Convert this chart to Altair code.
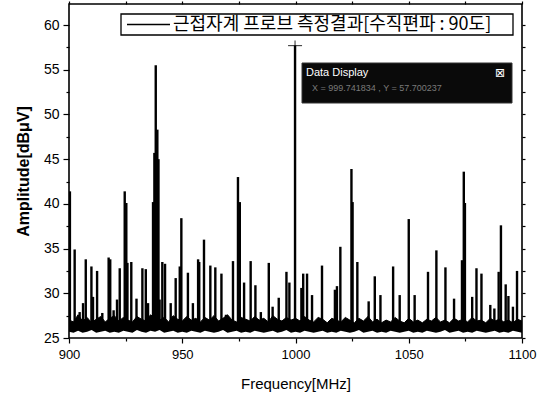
import altair as alt
import pandas as pd

# ---------------- data ----------------
freq_grid = list(range(900, 1101, 2))
floor_top = [
    27.0, 26.8, 27.6, 26.9, 27.3, 26.7, 27.1, 27.4, 26.8, 27.2,
    27.5, 26.9, 27.3, 27.0, 26.8, 27.4, 27.1, 26.9, 27.6, 27.2,
    27.0, 27.3, 26.8, 27.5, 27.1, 26.9, 27.4, 27.0, 27.2, 26.8,
    27.3, 27.0, 27.5, 26.9, 27.2, 27.6, 27.0, 26.8, 27.3, 27.1,
    26.9, 27.4, 27.0, 27.2, 26.8, 27.5, 27.1, 26.9, 27.3, 27.0,
    27.2, 26.9, 27.4, 27.0, 26.8, 27.3, 27.1, 26.7, 27.2, 27.0,
    26.8, 27.3, 27.0, 26.7, 27.2, 26.9, 27.4, 26.8, 27.1, 26.7,
    27.0, 26.8, 27.3, 26.9, 26.7, 27.2, 26.8, 27.0, 26.7, 27.1,
    26.9, 27.3, 26.8, 27.0, 26.7, 27.2, 26.9, 27.1, 26.8, 27.3,
    26.9, 27.0, 26.7, 27.2, 26.9, 27.1, 26.8, 27.0, 26.7, 27.1,
    26.9,
]
floor_bottom = [
    25.7, 25.6, 25.8, 25.6, 25.7, 25.9, 25.6, 25.7, 25.8, 25.6,
    25.7, 25.6, 25.8, 25.7, 25.6, 25.9, 25.7, 25.6, 25.8, 25.7,
    25.9, 25.6, 25.7, 25.8, 25.6, 25.7, 25.6, 25.8, 25.7, 25.6,
    25.8, 25.7, 25.6, 25.7, 25.9, 25.6, 25.7, 25.8, 25.6, 25.7,
    25.6, 25.8, 25.7, 25.6, 25.7, 25.8, 25.6, 25.7, 25.9, 25.6,
    25.7, 25.6, 25.8, 25.7, 25.6, 25.7, 25.8, 25.6, 25.7, 25.6,
    25.8, 25.7, 25.6, 25.7, 25.9, 25.6, 25.7, 25.8, 25.6, 25.7,
    25.6, 25.8, 25.7, 25.6, 25.7, 25.8, 25.6, 25.7, 25.6, 25.8,
    25.7, 25.6, 25.7, 25.9, 25.6, 25.7, 25.8, 25.6, 25.7, 25.6,
    25.8, 25.7, 25.6, 25.7, 25.8, 25.6, 25.7, 25.6, 25.8, 25.7,
    25.6,
]

spike_freq = [
    900.4, 902.5, 904.7, 906.2, 907.4, 909.9, 910.6, 912.4, 914.7, 917.5,
    918.2, 919.7, 921.2, 922.4, 924.6, 925.3, 925.8, 927.5, 929.8, 932.4,
    933.9, 934.9, 937.1, 937.7, 938.3, 939.0, 939.5, 940.0, 941.2, 942.4,
    944.9, 947.1, 948.9, 949.6, 952.5, 954.7, 957.0, 957.5, 959.6, 962.4,
    964.6, 967.3, 969.3, 972.4, 974.6, 975.4, 977.3, 980.2, 982.3, 984.7,
    988.2, 989.9, 992.6, 996.0, 997.3, 999.8, 1002.6, 1003.4, 1005.1, 1007.3,
    1011.7, 1017.4, 1018.3, 1019.8, 1024.7, 1025.2, 1027.3, 1032.3, 1035.0, 1037.5,
    1043.1, 1046.0, 1050.0, 1052.6, 1058.5, 1062.2, 1066.2, 1070.0, 1073.5, 1074.3,
    1074.8, 1078.0, 1079.9, 1082.1, 1086.0, 1087.8, 1089.7, 1090.7, 1092.8, 1094.0,
    1096.0, 1097.8,
]
spike_peak = [
    41.4, 34.9, 27.9, 28.9, 33.8, 33.0, 29.6, 32.5, 27.8, 34.0,
    33.8, 28.1, 29.3, 32.8, 41.4, 40.1, 33.4, 33.5, 29.4, 32.8,
    32.7, 28.9, 40.2, 45.7, 55.5, 48.3, 45.0, 29.3, 33.5, 33.3,
    28.9, 31.7, 33.0, 38.4, 32.3, 28.9, 33.8, 33.5, 36.0, 33.1,
    32.9, 32.2, 27.6, 33.6, 43.0, 40.2, 31.2, 33.6, 30.9, 27.9,
    33.4, 28.5, 29.5, 32.4, 31.2, 57.7, 30.6, 32.2, 32.2, 29.8,
    33.1, 30.4, 30.8, 35.2, 43.9, 40.2, 33.5, 29.1, 31.9, 29.8,
    33.0, 29.8, 38.3, 29.8, 32.4, 34.8, 32.9, 29.4, 33.7, 43.6,
    40.1, 29.6, 32.8, 32.2, 28.7, 28.3, 32.4, 37.6, 31.0, 29.7,
    28.5, 32.5,
]
spike_base = 26.0

series_name = "근접자계 프로브 측정결과[수직편파 : 90도]"
marker_freq = 999.8
marker_amp = 57.7
display_title = "Data Display"
display_text = "X = 999.741834 , Y = 57.700237"

x_major = [900, 950, 1000, 1050, 1100]
x_minor = [925, 975, 1025, 1075]
y_major = [25, 30, 35, 40, 45, 50, 55, 60]
y_minor = [27.5, 32.5, 37.5, 42.5, 47.5, 52.5, 57.5]

# ---------------- chart ----------------
floor_df = pd.DataFrame({"f": freq_grid, "top": floor_top, "bottom": floor_bottom})
spike_df = pd.DataFrame({"f": spike_freq, "peak": spike_peak})
spike_df["base"] = spike_base
marker_df = pd.DataFrame({"f": [marker_freq], "a": [marker_amp]})
one = alt.InlineData(values=[{"k": 1}])

xscale = alt.Scale(domain=[900, 1100], nice=False, zero=False)
yscale = alt.Scale(domain=[25, 62.35], nice=False, zero=False)
FONT = "Liberation Sans"

common = dict(domain=False, grid=False, tickColor="black", tickWidth=1.2)

x_axis = alt.Axis(
    orient="bottom", values=x_major, tickSize=5, format="d", **common,
    labelFont=FONT, labelFontSize=13, labelColor="black", labelPadding=5,
    labelFlush=False,
    title="Frequency[MHz]", titleFont=FONT, titleFontSize=15, titleFontWeight="normal",
    titleColor="black", titlePadding=15,
)
y_axis = alt.Axis(
    orient="left", values=y_major, tickSize=6, **common,
    labelFont=FONT, labelFontSize=14, labelColor="black", labelPadding=4,
    labelFlush=False,
    title="Amplitude[dBμV]", titleFont=FONT, titleFontSize=16, titleFontWeight="bold",
    titleColor="black", titlePadding=12,
)
x_axis_minor = alt.Axis(orient="bottom", values=x_minor, tickSize=3, labels=False, title=None, **common)
y_axis_minor = alt.Axis(orient="left", values=y_minor, tickSize=3, labels=False, title=None, **common)
x_axis_top = alt.Axis(orient="top", values=x_major + x_minor, labels=False, tickSize=3, title=None, **common)
y_axis_right = alt.Axis(orient="right", values=y_major + y_minor, labels=False, tickSize=3, title=None, **common)

floor = alt.Chart(floor_df).mark_area(color="black", clip=True, interpolate="linear").encode(
    x=alt.X("f:Q", scale=xscale, axis=x_axis),
    y=alt.Y("top:Q", scale=yscale, axis=y_axis),
    y2="bottom:Q",
)
floor_line = alt.Chart(floor_df).mark_line(color="black", strokeWidth=1, clip=True).encode(
    x=alt.X("f:Q", scale=xscale, axis=x_axis_minor),
    y=alt.Y("top:Q", scale=yscale, axis=y_axis_minor),
)
spikes = alt.Chart(spike_df).mark_rule(color="black", strokeWidth=2.4, clip=True).encode(
    x=alt.X("f:Q", scale=xscale, axis=x_axis_top),
    y=alt.Y("base:Q", scale=yscale, axis=y_axis_right),
    y2="peak:Q",
)
cross_h = alt.Chart(marker_df).mark_tick(color="black", orient="horizontal", size=14, thickness=1.2).encode(
    x=alt.X("f:Q", scale=xscale, axis=None),
    y=alt.Y("a:Q", scale=yscale, axis=None),
)
cross_v = alt.Chart(marker_df).mark_tick(color="black", orient="vertical", size=10, thickness=1.2).encode(
    x=alt.X("f:Q", scale=xscale, axis=None),
    y=alt.Y("a:Q", scale=yscale, axis=None),
)

# legend box (manual)
leg_box = alt.Chart(one).mark_rect(fill="white", stroke="black", strokeWidth=1.3).encode(
    x=alt.value(52), x2=alt.value(444), y=alt.value(10), y2=alt.value(31)
)
leg_line = alt.Chart(one).mark_rule(color="black", strokeWidth=1.3).encode(
    x=alt.value(58), x2=alt.value(101), y=alt.value(20.5)
)
leg_text = alt.Chart(one).mark_text(
    align="left", baseline="middle", font="Noto Sans CJK KR", fontSize=18, color="black"
).encode(x=alt.value(104), y=alt.value(20.5), text=alt.value(series_name))

# data display box
dd_box = alt.Chart(one).mark_rect(fill="#0a0a0a", stroke="#333", strokeWidth=1).encode(
    x=alt.value(233), x2=alt.value(443), y=alt.value(59), y2=alt.value(99)
)
dd_title = alt.Chart(one).mark_text(
    align="left", baseline="middle", font=FONT, fontSize=11, color="white"
).encode(x=alt.value(237), y=alt.value(69), text=alt.value(display_title))
dd_close = alt.Chart(one).mark_text(
    align="center", baseline="middle", font="DejaVu Sans", fontSize=12, color="white"
).encode(x=alt.value(431), y=alt.value(69), text=alt.value("⊠"))
dd_value = alt.Chart(one).mark_text(
    align="left", baseline="middle", font=FONT, fontSize=9, color="#7a7a7a"
).encode(x=alt.value(243), y=alt.value(84), text=alt.value(display_text))

chart = alt.layer(
    floor, floor_line, spikes, cross_h, cross_v,
    leg_box, leg_line, leg_text,
    dd_box, dd_title, dd_close, dd_value,
).resolve_axis(x="independent", y="independent").properties(
    width=453, height=334,
    autosize=alt.AutoSizeParams(type="none"),
    padding={"left": 69, "top": 4, "right": 25, "bottom": 57},
    background="white",
).configure_view(stroke="black", strokeWidth=1.6)

chart.save("out.html", embed_options={"renderer": "svg", "actions": False})
